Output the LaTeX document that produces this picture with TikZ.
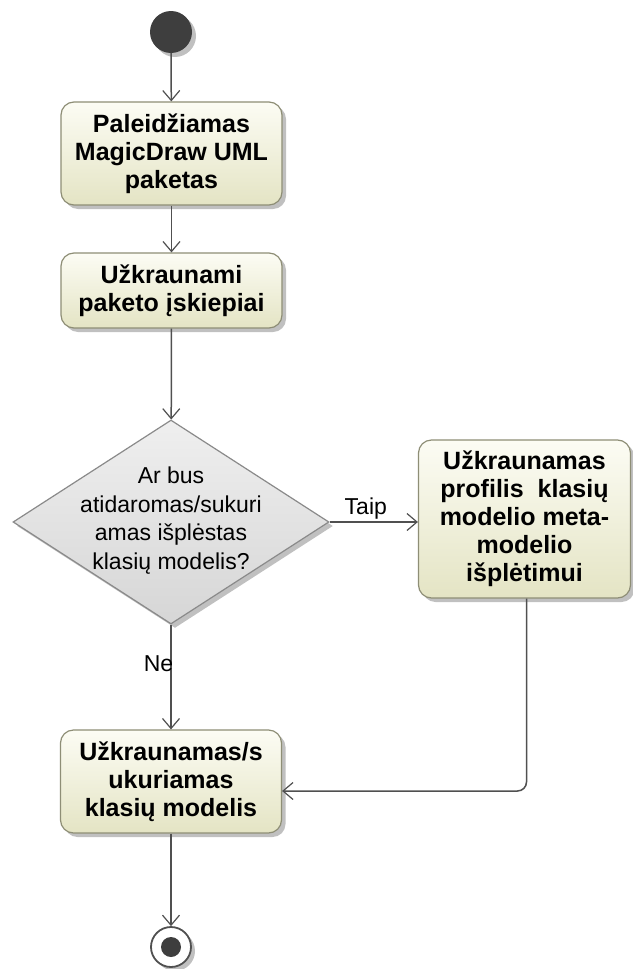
\documentclass[tikz,border=0pt]{standalone}
\usepackage{fontspec}
\setmainfont{Liberation Sans}
\usetikzlibrary{arrows.meta,shapes.geometric,shadows}

\definecolor{flowline}{HTML}{505050}
\definecolor{actborder}{HTML}{8E8E76}
\definecolor{acttop}{HTML}{FCFCF4}
\definecolor{actbottom}{HTML}{E4E4C4}
\definecolor{decborder}{HTML}{8A8A8A}
\definecolor{dectop}{HTML}{EFEFEF}
\definecolor{decbottom}{HTML}{D6D6D6}
\definecolor{blob}{HTML}{3E3E3E}

\newcommand{\actfont}{\fontsize{25}{28}\selectfont\bfseries}
\newcommand{\regfont}{\fontsize{23}{28.5}\selectfont}

\tikzset{
  softshadow/.style={drop shadow={shadow xshift=4pt,shadow yshift=-4pt,opacity=0.35,fill=black!70}},
  action/.style={rectangle, rounded corners=13pt, draw=actborder, line width=1.2pt,
    top color=acttop, bottom color=actbottom, softshadow,
    minimum width=221, align=center, font=\actfont, inner sep=2pt},
  decision/.style={diamond, draw=decborder, line width=1.2pt,
    top color=dectop, bottom color=decbottom, softshadow,
    minimum width=316, minimum height=204, inner sep=0pt},
  dectext/.style={align=center, font=\regfont, inner sep=0pt},
  initialnode/.style={circle, fill=blob, minimum size=42, inner sep=0pt, softshadow},
  finalnode/.style={circle, draw=flowline, line width=1.8pt, fill=white, minimum size=40,
    inner sep=0pt, softshadow,
    path picture={\fill[blob] (path picture bounding box.center) circle (10pt);}},
  flow/.style={draw=flowline, line width=1.5pt,
    -{Straight Barb[length=10pt,width=17pt,line width=1.2pt]}},
  guard/.style={font=\regfont, inner sep=1.5pt}
}

\begin{document}
\begin{tikzpicture}[x=1pt,y=-1pt]
  \useasboundingbox[fill=white] (0,0) rectangle (632,969);

  % nodes of the activity
  \node[initialnode] (start) at (171,32) {};
  \node[action, minimum height=103] (b1) at (171.5,153.5)
    {Paleidžiamas\\MagicDraw UML\\paketas};
  \node[action, minimum height=75] (b2) at (171.5,290.5)
    {Užkraunami\\paketo įskiepiai};
  \node[decision] (dec) at (171,522) {};
  \node[dectext] (dectxt) at (171,520.5)
    {Ar bus\\atidaromas/sukuri\\amas išplėstas\\klasių modelis?};
  \node[action, minimum width=212, minimum height=158] (b3) at (524.5,519)
    {Užkraunamas\\profilis~ klasių\\modelio meta-\\modelio\\išplėtimui};
  \node[action, minimum height=103] (b4) at (171,781.5)
    {Užkraunamas/s\\ukuriamas\\klasių modelis};
  \node[finalnode] (end) at (171,947) {};

  % control flows
  \draw[flow] (start) -- (b1);
  \draw[flow] (b1) -- (b2);
  \draw[flow] (b2) -- (dec);
  \draw[flow] (dec.east) -- node[guard, pos=0.41, above] {Taip} (dec.east -| b3.west);
  \draw[flow] (dec.south) -- node[guard, pos=0.37, anchor=east, xshift=3pt, inner sep=0pt] {Ne} (b4.north);
  \draw[flow, rounded corners=9pt] ([xshift=2pt]b3.south) |- ([yshift=-9.5pt]b4.east);
  \draw[flow] (b4) -- (end);
\end{tikzpicture}
\end{document}
